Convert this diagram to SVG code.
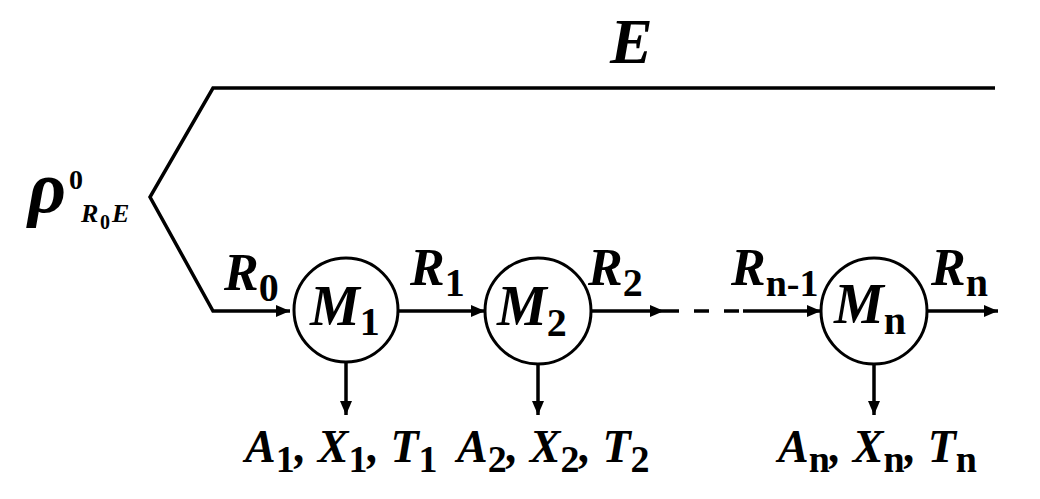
<svg xmlns="http://www.w3.org/2000/svg" width="1040" height="499" viewBox="0 0 1040 499">
<style>
.ln{stroke:#000;stroke-width:3.5;fill:none}
.c{stroke:#000;stroke-width:3;fill:#fff}
.t{font-family:"Liberation Serif","Times New Roman",serif;font-weight:bold;font-style:italic;fill:#000}
.s{font-style:normal}
</style>
<defs>
<marker id="ah" markerUnits="userSpaceOnUse" markerWidth="14" markerHeight="12" refX="14" refY="6" orient="auto">
<path d="M0,0 L14,6 L0,12 Z" fill="#000"/>
</marker>
</defs>
<rect width="1040" height="499" fill="#fff"/>
<g id="connectors">
<polyline class="ln" points="995,88 213,88 150,197 213,311 290,311" marker-end="url(#ah)"/>
<line class="ln" x1="398" y1="311" x2="485" y2="311" marker-end="url(#ah)"/>
<line class="ln" x1="591" y1="311" x2="664" y2="311" marker-end="url(#ah)"/>
<line class="ln" x1="664" y1="311" x2="743" y2="311" stroke-dasharray="15,15"/>
<line class="ln" x1="743" y1="311" x2="821" y2="311" marker-end="url(#ah)"/>
<line class="ln" x1="927" y1="311" x2="998" y2="311" marker-end="url(#ah)"/>
<line class="ln" x1="346" y1="362" x2="346" y2="415" marker-end="url(#ah)"/>
<line class="ln" x1="538" y1="363" x2="538" y2="415" marker-end="url(#ah)"/>
<line class="ln" x1="874" y1="363" x2="874" y2="415" marker-end="url(#ah)"/>
</g>
<g id="label-E"><text class="t" x="610" y="63" font-size="64">E</text></g>
<g id="label-rho">
<text class="t" x="28" y="212" font-size="74">ρ</text>
<text class="t s" x="69" y="189" font-size="28">0</text>
<text class="t" x="81" y="222" font-size="26">R</text>
<text class="t s" x="100" y="229" font-size="20">0</text>
<text class="t" x="112" y="222" font-size="26">E</text>
</g>
<g id="node-M1">
<circle class="c" cx="346" cy="310" r="52"/>
<text class="t" x="310" y="325" font-size="56">M<tspan class="s" font-size="40" dy="10">1</tspan></text>
</g>
<g id="node-M2">
<circle class="c" cx="538" cy="311" r="53"/>
<text class="t" x="497" y="325" font-size="56">M<tspan class="s" font-size="40" dy="11">2</tspan></text>
</g>
<g id="node-Mn">
<circle class="c" cx="874" cy="311" r="53"/>
<text class="t" x="834" y="323" font-size="56">M<tspan class="s" font-size="40" dy="11">n</tspan></text>
</g>
<g id="labels-R">
<text class="t" x="224" y="290" font-size="52">R<tspan class="s" font-size="40" dy="11">0</tspan></text>
<text class="t" x="410" y="285" font-size="52">R<tspan class="s" font-size="40" dy="11">1</tspan></text>
<text class="t" x="588" y="285" font-size="52">R<tspan class="s" font-size="40" dy="11">2</tspan></text>
<text class="t" x="731" y="285" font-size="52">R<tspan class="s" font-size="38" dy="11">n-1</tspan></text>
<text class="t" x="931" y="285" font-size="52">R<tspan class="s" font-size="40" dy="11">n</tspan></text>
</g>
<g id="outputs">
<text class="t" x="245" y="462" font-size="46">A<tspan class="s" font-size="38" dy="10">1</tspan><tspan dy="-10">, X</tspan><tspan class="s" font-size="38" dy="10">1</tspan><tspan dy="-10">, T</tspan><tspan class="s" font-size="38" dy="10">1</tspan></text>
<text class="t" x="457" y="462" font-size="46">A<tspan class="s" font-size="38" dy="10">2</tspan><tspan dy="-10">, X</tspan><tspan class="s" font-size="38" dy="10">2</tspan><tspan dy="-10">, T</tspan><tspan class="s" font-size="38" dy="10">2</tspan></text>
<text class="t" x="778" y="462" font-size="46">A<tspan class="s" font-size="38" dy="10">n</tspan><tspan dy="-10">, X</tspan><tspan class="s" font-size="38" dy="10">n</tspan><tspan dy="-10">, T</tspan><tspan class="s" font-size="38" dy="10">n</tspan></text>
</g>
</svg>
